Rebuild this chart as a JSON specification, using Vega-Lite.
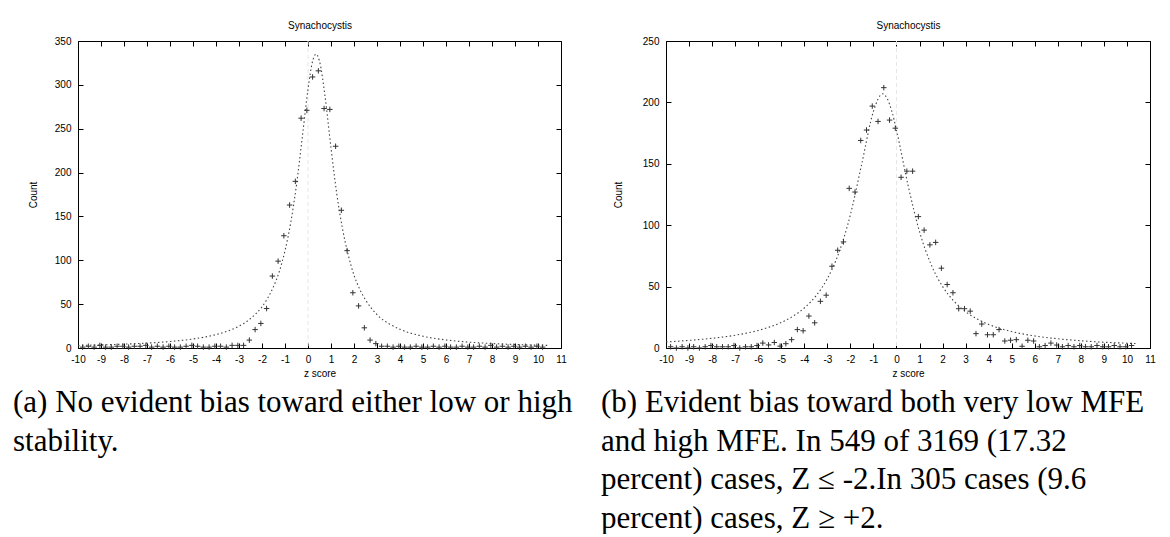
{
  "$schema": "https://vega.github.io/schema/vega-lite/v6.json",
  "padding": {"left": 12, "top": 20, "right": 0, "bottom": 0},
  "background": "#ffffff",
  "config": {
    "view": {"stroke": "#000000", "strokeWidth": 1},
    "font": "Liberation Sans",
    "axis": {"domain": false, "grid": false, "labelFont": "Liberation Sans", "labelFontSize": 10, "labelColor": "#000", "titleFont": "Liberation Sans", "titleFontSize": 10, "titleFontWeight": "normal", "titleColor": "#000", "tickColor": "#000", "tickSize": -5, "labelOverlap": false, "labelFlush": false, "labelBound": false, "labelExpr": "replace(datum.label, '−', '-')"}
  },
  "datasets": {
    "curveA": [
      {"z": -10, "c": 2.9}, {"z": -9, "c": 3.5}, {"z": -8, "c": 4.4}, {"z": -7, "c": 5.6}, {"z": -6, "c": 7.4}, {"z": -5, "c": 10.3}, {"z": -4, "c": 15.3}, {"z": -3.5, "c": 19.2}, {"z": -3, "c": 24.9}, {"z": -2.5, "c": 33.5}, {"z": -2, "c": 47}, {"z": -1.75, "c": 57}, {"z": -1.5, "c": 70}, {"z": -1.25, "c": 87}, {"z": -1, "c": 111}, {"z": -0.75, "c": 143}, {"z": -0.5, "c": 186}, {"z": -0.25, "c": 240}, {"z": 0, "c": 295}, {"z": 0.2, "c": 327}, {"z": 0.35, "c": 335}, {"z": 0.5, "c": 327}, {"z": 0.75, "c": 285}, {"z": 1, "c": 228}, {"z": 1.25, "c": 176}, {"z": 1.5, "c": 136}, {"z": 1.75, "c": 106}, {"z": 2, "c": 83}, {"z": 2.25, "c": 67}, {"z": 2.5, "c": 55}, {"z": 3, "c": 38}, {"z": 3.5, "c": 28}, {"z": 4, "c": 21.3}, {"z": 5, "c": 13.4}, {"z": 6, "c": 9.2}, {"z": 7, "c": 6.7}, {"z": 8, "c": 5.1}, {"z": 9, "c": 4}, {"z": 10, "c": 3.2}, {"z": 10.4, "c": 3}
    ],
    "ptsA": [
      {"z": -9.8, "c": 1}, {"z": -9.55, "c": 2}, {"z": -9.3, "c": 1}, {"z": -9.05, "c": 3}, {"z": -8.8, "c": 1}, {"z": -8.55, "c": 1}, {"z": -8.3, "c": 2}, {"z": -8.05, "c": 2}, {"z": -7.8, "c": 1}, {"z": -7.55, "c": 2}, {"z": -7.3, "c": 2}, {"z": -7.05, "c": 3}, {"z": -6.8, "c": 1}, {"z": -6.55, "c": 2}, {"z": -6.3, "c": 1}, {"z": -6.05, "c": 2}, {"z": -5.8, "c": 1}, {"z": -5.55, "c": 1}, {"z": -5.3, "c": 2}, {"z": -5.05, "c": 3}, {"z": -4.8, "c": 2}, {"z": -4.55, "c": 1}, {"z": -4.3, "c": 1}, {"z": -4.05, "c": 2}, {"z": -3.8, "c": 2}, {"z": -3.55, "c": 1}, {"z": -3.3, "c": 3}, {"z": -3.05, "c": 3}, {"z": -2.8, "c": 3}, {"z": -2.55, "c": 9}, {"z": -2.3, "c": 21}, {"z": -2.05, "c": 28}, {"z": -1.8, "c": 45}, {"z": -1.55, "c": 82}, {"z": -1.3, "c": 99}, {"z": -1.05, "c": 128}, {"z": -0.8, "c": 163}, {"z": -0.55, "c": 190}, {"z": -0.3, "c": 262}, {"z": -0.05, "c": 271}, {"z": 0.2, "c": 309}, {"z": 0.45, "c": 316}, {"z": 0.7, "c": 273}, {"z": 0.95, "c": 272}, {"z": 1.2, "c": 230}, {"z": 1.45, "c": 157}, {"z": 1.7, "c": 111}, {"z": 1.95, "c": 63}, {"z": 2.2, "c": 48}, {"z": 2.45, "c": 23}, {"z": 2.7, "c": 9}, {"z": 2.95, "c": 5}, {"z": 3.2, "c": 2}, {"z": 3.45, "c": 2}, {"z": 3.7, "c": 1}, {"z": 3.95, "c": 2}, {"z": 4.2, "c": 1}, {"z": 4.45, "c": 1}, {"z": 4.7, "c": 2}, {"z": 4.95, "c": 1}, {"z": 5.2, "c": 1}, {"z": 5.45, "c": 2}, {"z": 5.7, "c": 1}, {"z": 5.95, "c": 2}, {"z": 6.2, "c": 1}, {"z": 6.45, "c": 1}, {"z": 6.7, "c": 2}, {"z": 6.95, "c": 1}, {"z": 7.2, "c": 1}, {"z": 7.45, "c": 2}, {"z": 7.7, "c": 1}, {"z": 7.95, "c": 3}, {"z": 8.2, "c": 1}, {"z": 8.45, "c": 2}, {"z": 8.7, "c": 1}, {"z": 8.95, "c": 2}, {"z": 9.2, "c": 1}, {"z": 9.45, "c": 2}, {"z": 9.7, "c": 1}, {"z": 9.95, "c": 2}, {"z": 10.2, "c": 1}
    ],
    "curveB": [
      {"z": -10, "c": 4.9}, {"z": -9, "c": 6.2}, {"z": -8, "c": 7.9}, {"z": -7, "c": 10.4}, {"z": -6, "c": 14.3}, {"z": -5, "c": 20.8}, {"z": -4.5, "c": 25.8}, {"z": -4, "c": 32.6}, {"z": -3.5, "c": 42.3}, {"z": -3, "c": 56.5}, {"z": -2.5, "c": 77.5}, {"z": -2, "c": 108.5}, {"z": -1.5, "c": 150.5}, {"z": -1, "c": 192.7}, {"z": -0.6, "c": 207}, {"z": -0.2, "c": 192.7}, {"z": 0, "c": 177.4}, {"z": 0.5, "c": 132.7}, {"z": 1, "c": 94.7}, {"z": 1.5, "c": 68.1}, {"z": 2, "c": 50.1}, {"z": 2.5, "c": 38}, {"z": 3, "c": 29.6}, {"z": 3.5, "c": 23.6}, {"z": 4, "c": 19.2}, {"z": 5, "c": 13.4}, {"z": 6, "c": 9.8}, {"z": 7, "c": 7.5}, {"z": 8, "c": 5.9}, {"z": 9, "c": 4.7}, {"z": 10, "c": 3.9}, {"z": 10.4, "c": 3.6}
    ],
    "ptsB": [
      {"z": -9.8, "c": 1}, {"z": -9.55, "c": 0}, {"z": -9.3, "c": 1}, {"z": -9.05, "c": 0}, {"z": -8.8, "c": 1}, {"z": -8.55, "c": 0}, {"z": -8.3, "c": 1}, {"z": -8.05, "c": 2}, {"z": -7.8, "c": 1}, {"z": -7.55, "c": 1}, {"z": -7.3, "c": 1}, {"z": -7.05, "c": 2}, {"z": -6.8, "c": 0}, {"z": -6.55, "c": 1}, {"z": -6.3, "c": 1}, {"z": -6.05, "c": 2}, {"z": -5.8, "c": 4}, {"z": -5.55, "c": 2.5}, {"z": -5.3, "c": 4.5}, {"z": -5.05, "c": 1.5}, {"z": -4.8, "c": 3.5}, {"z": -4.55, "c": 6.8}, {"z": -4.3, "c": 15}, {"z": -4.05, "c": 14}, {"z": -3.8, "c": 26}, {"z": -3.55, "c": 20.5}, {"z": -3.3, "c": 38}, {"z": -3.05, "c": 43}, {"z": -2.8, "c": 66.6}, {"z": -2.55, "c": 79.6}, {"z": -2.3, "c": 86.4}, {"z": -2.05, "c": 130}, {"z": -1.8, "c": 127}, {"z": -1.55, "c": 169}, {"z": -1.3, "c": 177.5}, {"z": -1.05, "c": 197}, {"z": -0.8, "c": 184.5}, {"z": -0.55, "c": 212}, {"z": -0.3, "c": 185.6}, {"z": -0.05, "c": 179}, {"z": 0.2, "c": 139}, {"z": 0.45, "c": 144}, {"z": 0.7, "c": 144}, {"z": 0.95, "c": 107}, {"z": 1.2, "c": 96}, {"z": 1.45, "c": 84}, {"z": 1.7, "c": 86}, {"z": 1.95, "c": 65}, {"z": 2.2, "c": 51.7}, {"z": 2.45, "c": 45}, {"z": 2.7, "c": 32}, {"z": 2.95, "c": 32}, {"z": 3.2, "c": 30}, {"z": 3.45, "c": 11.7}, {"z": 3.7, "c": 19.5}, {"z": 3.95, "c": 10.8}, {"z": 4.2, "c": 10.8}, {"z": 4.45, "c": 15}, {"z": 4.7, "c": 5.7}, {"z": 4.95, "c": 6.3}, {"z": 5.2, "c": 6.8}, {"z": 5.45, "c": 1.4}, {"z": 5.7, "c": 6.3}, {"z": 5.95, "c": 5.7}, {"z": 6.2, "c": 1}, {"z": 6.45, "c": 2}, {"z": 6.7, "c": 4}, {"z": 6.95, "c": 2.4}, {"z": 7.2, "c": 1}, {"z": 7.45, "c": 2}, {"z": 7.7, "c": 1}, {"z": 7.95, "c": 2}, {"z": 8.2, "c": 1}, {"z": 8.45, "c": 1}, {"z": 8.7, "c": 2}, {"z": 8.95, "c": 1}, {"z": 9.2, "c": 1}, {"z": 9.45, "c": 2}, {"z": 9.7, "c": 1}, {"z": 9.95, "c": 1}, {"z": 10.2, "c": 2}
    ],
    "zero": [{"z": 0}]
  },
  "spacing": 26,
  "hconcat": [
    {
      "width": 483,
      "height": 307,
      "title": {"text": ["(a) No evident bias toward either low or high", "stability."], "orient": "bottom", "anchor": "start", "frame": "group", "dx": -65, "offset": 10, "font": "Liberation Serif", "fontSize": 31, "fontWeight": "normal", "lineHeight": 38.5, "color": "#000"},
      "layer": [
        {
          "data": {"name": "zero"},
          "mark": {"type": "rule", "color": "#e6e6e6", "strokeDash": [4, 3]},
          "encoding": {"x": {"field": "z", "type": "quantitative", "scale": {"domain": [-10, 11], "nice": false}, "axis": null}}
        },
        {
          "data": {"name": "curveA"},
          "mark": {"type": "line", "color": "#444", "strokeWidth": 1.1, "strokeDash": [1.5, 2.5], "interpolate": "monotone"},
          "encoding": {
            "x": {"field": "z", "type": "quantitative", "scale": {"domain": [-10, 11], "nice": false}, "axis": {"orient": "top", "labels": false, "values": [-10,-9,-8,-7,-6,-5,-4,-3,-2,-1,0,1,2,3,4,5,6,7,8,9,10,11], "title": "Synachocystis", "titlePadding": 10}},
            "y": {"field": "c", "type": "quantitative", "scale": {"domain": [0, 350], "nice": false}, "axis": {"orient": "right", "labels": false, "values": [0,50,100,150,200,250,300,350], "title": null}}
          }
        },
        {
          "data": {"name": "ptsA"},
          "mark": {"type": "point", "shape": "M-1,0L1,0M0,-1L0,1", "filled": false, "stroke": "#333", "strokeWidth": 1, "size": 30, "opacity": 1},
          "encoding": {
            "x": {"field": "z", "type": "quantitative", "scale": {"domain": [-10, 11], "nice": false}, "axis": {"orient": "bottom", "values": [-10,-9,-8,-7,-6,-5,-4,-3,-2,-1,0,1,2,3,4,5,6,7,8,9,10,11], "title": "z score", "labelPadding": 11, "titlePadding": 4}},
            "y": {"field": "c", "type": "quantitative", "scale": {"domain": [0, 350], "nice": false}, "axis": {"orient": "left", "values": [0,50,100,150,200,250,300,350], "title": "Count", "labelPadding": 12, "titlePadding": 16}}
          }
        }
      ],
      "resolve": {"axis": {"x": "independent", "y": "independent"}}
    },
    {
      "width": 484,
      "height": 307,
      "title": {"text": ["(b) Evident bias toward both very low MFE", "and high MFE. In 549 of 3169 (17.32", "percent) cases, Z ≤ -2.In 305 cases (9.6", "percent) cases, Z ≥ +2."], "orient": "bottom", "anchor": "start", "frame": "group", "dx": -65, "offset": 10, "font": "Liberation Serif", "fontSize": 31, "fontWeight": "normal", "lineHeight": 38.5, "color": "#000"},
      "layer": [
        {
          "data": {"name": "zero"},
          "mark": {"type": "rule", "color": "#e6e6e6", "strokeDash": [4, 3]},
          "encoding": {"x": {"field": "z", "type": "quantitative", "scale": {"domain": [-10, 11], "nice": false}, "axis": null}}
        },
        {
          "data": {"name": "curveB"},
          "mark": {"type": "line", "color": "#444", "strokeWidth": 1.1, "strokeDash": [1.5, 2.5], "interpolate": "monotone"},
          "encoding": {
            "x": {"field": "z", "type": "quantitative", "scale": {"domain": [-10, 11], "nice": false}, "axis": {"orient": "top", "labels": false, "values": [-10,-9,-8,-7,-6,-5,-4,-3,-2,-1,0,1,2,3,4,5,6,7,8,9,10,11], "title": "Synachocystis", "titlePadding": 10}},
            "y": {"field": "c", "type": "quantitative", "scale": {"domain": [0, 250], "nice": false}, "axis": {"orient": "right", "labels": false, "values": [0,50,100,150,200,250], "title": null}}
          }
        },
        {
          "data": {"name": "ptsB"},
          "mark": {"type": "point", "shape": "M-1,0L1,0M0,-1L0,1", "filled": false, "stroke": "#333", "strokeWidth": 1, "size": 30, "opacity": 1},
          "encoding": {
            "x": {"field": "z", "type": "quantitative", "scale": {"domain": [-10, 11], "nice": false}, "axis": {"orient": "bottom", "values": [-10,-9,-8,-7,-6,-5,-4,-3,-2,-1,0,1,2,3,4,5,6,7,8,9,10,11], "title": "z score", "labelPadding": 11, "titlePadding": 4}},
            "y": {"field": "c", "type": "quantitative", "scale": {"domain": [0, 250], "nice": false}, "axis": {"orient": "left", "values": [0,50,100,150,200,250], "title": "Count", "labelPadding": 12, "titlePadding": 19}}
          }
        }
      ],
      "resolve": {"axis": {"x": "independent", "y": "independent"}}
    }
  ]
}
